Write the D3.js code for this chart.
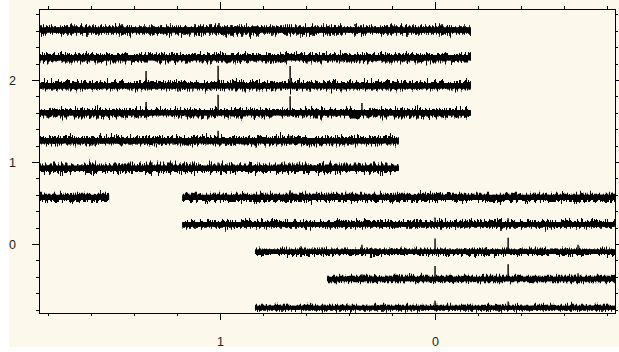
<!DOCTYPE html>
<html>
<head>
<meta charset="utf-8">
<script src="https://cdn.jsdelivr.net/npm/d3@7"></script>
<style>
  html, body { margin: 0; padding: 0; background: #ffffff; }
  svg { display: block; }
  .axis path, .axis line { stroke: #000; shape-rendering: crispEdges; }
  .axis text { font-family: "Liberation Sans", Arial, sans-serif; font-size: 12.5px; fill: #222; }
</style>
</head>
<body>
<div id="chart"></div>
<script>
// Stacked traces, one row per trace, offset vertically

// vertical offset of each trace (y units)
var rowOffsets = [2.61, 2.272, 1.93, 1.601, 1.26, 0.923, 0.57, 0.24, -0.094, -0.427, -0.777];

// pieces of each trace, [from, to] along x
var rowSegments = [
  [[1.853, -0.167]],
  [[1.853, -0.167]],
  [[1.853, -0.167]],
  [[1.853, -0.167]],
  [[1.853, 0.169]],
  [[1.853, 0.169]],
  [[1.853, 1.516], [1.175, -0.837]],
  [[1.175, -0.837]],
  [[0.837, -0.837]],
  [[0.502, -0.837]],
  [[0.837, -0.837]]
];

// noise half-width of each trace (y units)
var rowNoise = [0.05, 0.05, 0.05, 0.05, 0.05, 0.05, 0.048, 0.044, 0.04, 0.04, 0.036];

// peaks: [row index, x, height above trace]
var spikes = [
  [2, 1.344, 0.18], [2, 1.009, 0.245], [2, 0.674, 0.24],
  [3, 1.344, 0.13], [3, 1.009, 0.22], [3, 0.674, 0.2], [3, 0.340, 0.12],
  [4, 1.009, 0.12], [4, 0.674, 0.06],
  [5, 1.009, 0.07],
  [6, 0.674, 0.085],
  [7, 0, 0.085], [7, -0.340, 0.075],
  [8, 0.340, 0.085], [8, 0, 0.16], [8, -0.340, 0.17], [8, -0.665, 0.085],
  [9, 0.340, 0.06], [9, 0, 0.16], [9, -0.340, 0.18], [9, -0.665, 0.07],
  [10, 0, 0.085], [10, -0.340, 0.075]
];

// axes
var xDomain = [1.842, -0.837];
var yDomain = [-0.841, 2.866];
var xMajor = [1, 0];
var xMinor = [1.8, 1.6, 1.4, 1.2, 0.8, 0.6, 0.4, 0.2, -0.2, -0.4, -0.6, -0.8];
var yMajor = [2, 1, 0];
var yMinor = [2.8, 2.6, 2.4, 2.2, 1.8, 1.6, 1.4, 1.2, 0.8, 0.6, 0.4, 0.2, -0.2, -0.4, -0.6, -0.8];

var width = 619, height = 352;
var margin = {top: 9, right: 4, bottom: 39, left: 39};
var plotWidth = width - margin.left - margin.right;
var plotHeight = height - margin.top - margin.bottom;

var svg = d3.select("#chart").append("svg")
  .attr("width", width)
  .attr("height", height);

// page background
svg.append("rect")
  .attr("x", 9).attr("y", 0)
  .attr("width", width - 9).attr("height", 347)
  .attr("fill", "#fdf8ec");

var x = d3.scaleLinear().domain(xDomain).range([0, plotWidth]);
var y = d3.scaleLinear().domain(yDomain).range([plotHeight, 0]);

// roughening filter per trace: the solid line plus two displaced copies
var defs = svg.append("defs");
rowNoise.forEach(function(n, i) {
  var px = y(0) - y(n);
  var f = defs.append("filter")
    .attr("id", "rough" + i)
    .attr("filterUnits", "userSpaceOnUse")
    .attr("x", 0).attr("y", 0).attr("width", width).attr("height", height)
    .attr("color-interpolation-filters", "sRGB");
  [0, 1].forEach(function(k) {
    f.append("feTurbulence")
      .attr("type", "fractalNoise")
      .attr("baseFrequency", "0.8 0.05")
      .attr("numOctaves", 3)
      .attr("seed", i * 2 + k + 1)
      .attr("result", "t" + k);
    f.append("feColorMatrix")
      .attr("in", "t" + k)
      .attr("type", "matrix")
      .attr("values", "1 0 0 0 0  0 0 0 0 0.5  0 0 0 0 0  0 0 0 0 1")
      .attr("result", "m" + k);
    f.append("feDisplacementMap")
      .attr("in", "SourceGraphic")
      .attr("in2", "m" + k)
      .attr("scale", px * 3.6)
      .attr("xChannelSelector", "G")
      .attr("yChannelSelector", "R")
      .attr("result", "d" + k);
  });
  var merge = f.append("feMerge");
  merge.append("feMergeNode").attr("in", "SourceGraphic");
  merge.append("feMergeNode").attr("in", "d0");
  merge.append("feMergeNode").attr("in", "d1");
});

var plot = svg.append("g")
  .attr("transform", "translate(" + margin.left + "," + margin.top + ")");

// Draw traces
rowOffsets.forEach(function(off, i) {
  var px = y(0) - y(rowNoise[i]);
  var g = plot.append("g").attr("filter", "url(#rough" + i + ")");
  g.selectAll("line")
    .data(rowSegments[i]).enter()
    .append("line")
    .attr("x1", function(d) { return x(d[0]); })
    .attr("x2", function(d) { return x(d[1]); })
    .attr("y1", y(off))
    .attr("y2", y(off))
    .attr("stroke", "#000")
    .attr("stroke-width", px * 1.35);
});

// Draw peaks
plot.append("g")
  .selectAll("line")
  .data(spikes).enter()
  .append("line")
  .attr("x1", function(d) { return x(d[1]); })
  .attr("x2", function(d) { return x(d[1]); })
  .attr("y1", function(d) { return y(rowOffsets[d[0]]); })
  .attr("y2", function(d) { return y(rowOffsets[d[0]] + d[2]); })
  .attr("stroke", "#000")
  .attr("stroke-width", 1.4);

// Frame
plot.append("rect")
  .attr("width", plotWidth).attr("height", plotHeight)
  .attr("fill", "none").attr("stroke", "#000")
  .attr("shape-rendering", "crispEdges");

// Axes: major ticks with labels, minor ticks without
function addAxis(axisFn, scale, major, minor, tr, labels, pad) {
  var g = plot.append("g").attr("class", "axis").attr("transform", tr);
  g.call(axisFn(scale).tickValues(minor).tickSize(3).tickFormat(""));
  var m = plot.append("g").attr("class", "axis").attr("transform", tr);
  m.call(axisFn(scale).tickValues(major).tickSize(7).tickPadding(pad)
    .tickFormat(labels ? d3.format("d") : ""));
  g.select(".domain").remove();
  m.select(".domain").remove();
}
addAxis(d3.axisBottom, x, xMajor, xMinor, "translate(0," + plotHeight + ")", true, 17);
addAxis(d3.axisTop, x, xMajor, xMinor, "translate(0,0)", false, 3);
addAxis(d3.axisLeft, y, yMajor, yMinor, "translate(0,0)", true, 16);
addAxis(d3.axisRight, y, yMajor, yMinor, "translate(" + plotWidth + ",0)", false, 3);
</script>
</body>
</html>
